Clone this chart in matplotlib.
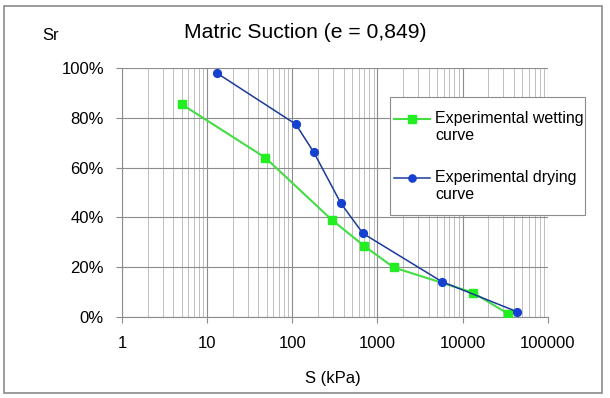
import matplotlib.pyplot as plt
from matplotlib.lines import Line2D
from matplotlib.patches import Rectangle

plt.rcParams["font.family"] = ["Liberation Sans", "DejaVu Sans"]

# wetting curve
wet_s = [5, 48, 290, 690, 1550, 13200, 34000]
wet_sr = [85.5, 64.0, 39.0, 28.6, 19.8, 9.7, 1.2]

# drying curve
dry_s = [13, 110, 179, 372, 675, 5700, 43500]
dry_sr = [98.0, 77.4, 66.1, 45.6, 33.5, 14.1, 2.0]

y_ticks = [0, 20, 40, 60, 80, 100]
x_ticks = [1, 10, 100, 1000, 10000, 100000]

WET_LINE, WET_MARK = "#44dd44", "#22ee22"
DRY_LINE, DRY_MARK = "#1a3a99", "#1540d0"
W, H = 610, 398


def fx(px):
    return px / W


def fy(py):
    return 1 - py / H


fig = plt.figure(figsize=(6.1, 3.98), dpi=100)
fig.patches.append(Rectangle((fx(4), fy(393)), 598 / W, 387 / H,
                             transform=fig.transFigure, fill=False,
                             edgecolor="#8a8a8a", linewidth=1.2))

ax = fig.add_axes([0.2, 0.2043, 0.698, 0.6246])
ax.set_xscale("log")
ax.set_xlim(1, 100000)
ax.set_ylim(0, 100)

ax.plot(wet_s, wet_sr, color=WET_LINE, linewidth=1.5, marker="s",
        markersize=5.2, markerfacecolor=WET_MARK, markeredgecolor=WET_MARK,
        zorder=3)
ax.plot(dry_s, dry_sr, color=DRY_LINE, linewidth=1.1, marker="o",
        markersize=5.6, markerfacecolor=DRY_MARK, markeredgecolor=DRY_MARK,
        zorder=4)

ax.set_xticks(x_ticks)
ax.set_xticklabels([str(v) for v in x_ticks], fontsize=12)
ax.set_yticks(y_ticks)
ax.set_yticklabels([f"{v}%" for v in y_ticks], fontsize=12)
ax.grid(True, which="major", color="#8c8c8c", linewidth=0.8)
ax.grid(True, which="minor", axis="x", color="#b4b4b4", linewidth=0.6)
ax.tick_params(which="major", length=4, color="#8c8c8c", pad=9)
ax.tick_params(axis="x", which="major", pad=10)
ax.tick_params(which="minor", length=0)
for side in ["top", "right"]:
    ax.spines[side].set_visible(False)
for side in ["left", "bottom"]:
    ax.spines[side].set_color("#8c8c8c")

fig.text(fx(305), fy(32), "Matric Suction (e = 0,849)", ha="center",
         va="center", fontsize=15.2)
fig.text(fx(42), fy(36), "Sr", ha="left", va="center", fontsize=12)
fig.text(fx(333), fy(378), "S (kPa)", ha="center", va="center", fontsize=12)

# legend box drawn Excel-style: marker aligned with first text line
fig.patches.append(Rectangle((fx(390), fy(215)), 195 / W, 118 / H,
                             transform=fig.transFigure, facecolor="white",
                             edgecolor="#8c8c8c", linewidth=0.8, zorder=5))
entries = [
    ("Experimental wetting\ncurve", WET_LINE, WET_MARK, "s", 1.5, 119),
    ("Experimental drying\ncurve", DRY_LINE, DRY_MARK, "o", 1.1, 178),
]
for label, lc, mc, mk, lw, py in entries:
    fig.add_artist(Line2D([fx(394), fx(430)], [fy(py), fy(py)],
                          transform=fig.transFigure, color=lc, linewidth=lw,
                          zorder=6))
    fig.add_artist(Line2D([fx(412)], [fy(py)], transform=fig.transFigure,
                          marker=mk, markersize=5.2, color=mc, zorder=7))
    fig.text(fx(435), fy(py - 8), label, ha="left", va="top", fontsize=11.5,
             linespacing=1.15, zorder=7)

fig.savefig("out.png", dpi=100)
